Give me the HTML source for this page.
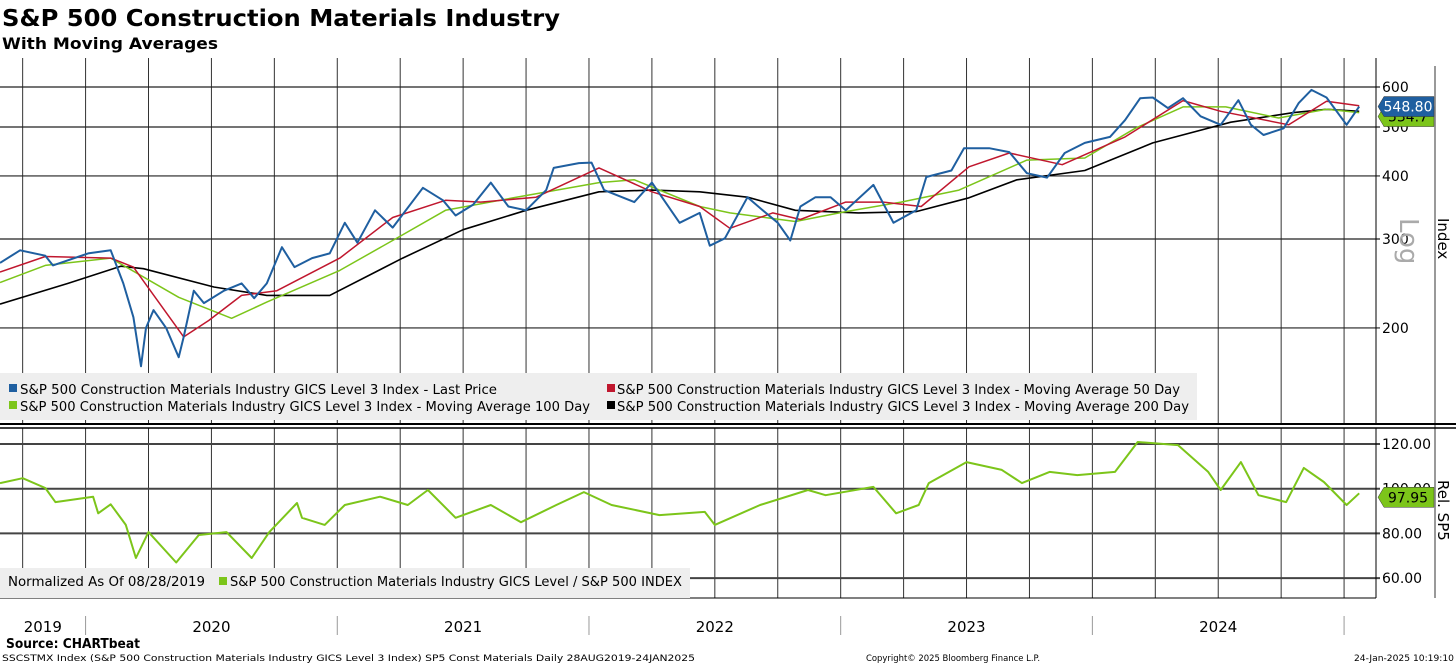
<!DOCTYPE html>
<html><head><meta charset="utf-8"><style>
html,body{margin:0;padding:0;background:#fff;}
svg{display:block;font-family:"DejaVu Sans","Liberation Sans",sans-serif;}
</style></head><body>
<svg id="chart" width="1456" height="665" viewBox="0 0 1456 665" xmlns="http://www.w3.org/2000/svg">
<text x="2" y="26" font-size="23" font-weight="bold" textLength="558" lengthAdjust="spacingAndGlyphs">S&amp;P 500 Construction Materials Industry</text>
<text x="2" y="49" font-size="16" font-weight="bold" textLength="216" lengthAdjust="spacingAndGlyphs">With Moving Averages</text>
<g id="grid"></g>
<g id="series"></g>
<g id="axes"></g>
<rect x="0" y="373" width="1197" height="47" fill="#eeeeee"/>
<rect x="9" y="384" width="8" height="8" fill="#1f5fa0"/>
<text x="20" y="394" font-size="13.5" textLength="477" lengthAdjust="spacingAndGlyphs">S&amp;P 500 Construction Materials Industry GICS Level 3 Index - Last Price</text>
<rect x="9" y="401" width="8" height="8" fill="#7cc51a"/>
<text x="20" y="411" font-size="13.5" textLength="570" lengthAdjust="spacingAndGlyphs">S&amp;P 500 Construction Materials Industry GICS Level 3 Index - Moving Average 100 Day</text>
<rect x="607" y="384" width="8" height="8" fill="#c0172e"/>
<text x="617" y="394" font-size="13.5" textLength="563" lengthAdjust="spacingAndGlyphs">S&amp;P 500 Construction Materials Industry GICS Level 3 Index - Moving Average 50 Day</text>
<rect x="607" y="401" width="8" height="8" fill="#000"/>
<text x="617" y="411" font-size="13.5" textLength="572" lengthAdjust="spacingAndGlyphs">S&amp;P 500 Construction Materials Industry GICS Level 3 Index - Moving Average 200 Day</text>
<rect x="0" y="568" width="690" height="30" fill="#eeeeee"/>
<text x="8" y="586" font-size="13.5" textLength="197" lengthAdjust="spacingAndGlyphs">Normalized As Of 08/28/2019</text>
<rect x="219" y="577" width="8" height="8" fill="#7cc51a"/>
<text x="230" y="586" font-size="13.5" textLength="452" lengthAdjust="spacingAndGlyphs">S&amp;P 500 Construction Materials Industry GICS Level / S&amp;P 500 INDEX</text>
<line x1="0" y1="424" x2="1456" y2="424" stroke="#000" stroke-width="2"/>
<line x1="0" y1="428" x2="1456" y2="428" stroke="#000" stroke-width="1.5"/>
<text x="6" y="648" font-size="13" font-weight="bold" textLength="134" lengthAdjust="spacingAndGlyphs">Source: CHARTbeat</text>
<text x="2" y="661" font-size="8.5" textLength="693" lengthAdjust="spacingAndGlyphs">SSCSTMX Index (S&amp;P 500 Construction Materials Industry GICS Level 3 Index) SP5 Const Materials  Daily 28AUG2019-24JAN2025</text>
<text x="866" y="661" font-size="8.5" textLength="174" lengthAdjust="spacingAndGlyphs">Copyright© 2025 Bloomberg Finance L.P.</text>
<text x="1354" y="661" font-size="8.5" textLength="100" lengthAdjust="spacingAndGlyphs">24-Jan-2025 10:19:10</text>
</svg>
<script>
const priceT=[2019.66,2019.74,2019.84,2019.87,2020.01,2020.10,2020.15,2020.19,2020.22,2020.24,2020.27,2020.32,2020.37,2020.39,2020.43,2020.47,2020.55,2020.62,2020.67,2020.72,2020.78,2020.83,2020.90,2020.97,2021.03,2021.08,2021.15,2021.22,2021.34,2021.42,2021.47,2021.54,2021.61,2021.68,2021.75,2021.83,2021.86,2021.96,2022.01,2022.06,2022.18,2022.25,2022.36,2022.44,2022.48,2022.54,2022.63,2022.69,2022.75,2022.80,2022.84,2022.90,2022.96,2023.02,2023.13,2023.21,2023.30,2023.34,2023.44,2023.49,2023.59,2023.67,2023.74,2023.82,2023.89,2023.97,2024.07,2024.13,2024.19,2024.24,2024.30,2024.36,2024.43,2024.51,2024.58,2024.63,2024.68,2024.76,2024.82,2024.87,2024.93,2025.01,2025.06];
const priceV=[269,285,278,266,281,285,245,210,168,200,217,200,175,192,237,224,237,245,229,245,289,264,275,281,323,295,342,316,379,358,334,351,388,348,342,375,415,424,425,375,355,388,323,338,291,301,363,342,323,298,348,363,363,342,384,323,342,398,410,454,454,446,405,397,444,465,478,516,570,572,545,570,525,505,565,505,482,497,558,592,572,505,548.8];
const ma50T=[2019.66,2019.84,2020.10,2020.19,2020.39,2020.49,2020.62,2020.76,2021.01,2021.22,2021.43,2021.57,2021.79,2022.04,2022.25,2022.44,2022.56,2022.73,2022.84,2023.02,2023.17,2023.32,2023.51,2023.67,2023.88,2024.13,2024.36,2024.51,2024.78,2024.93,2025.06];
const ma50V=[258,277,275,264,192,207,232,237,275,331,358,355,363,415,372,348,315,338,328,355,355,348,417,444,421,478,564,537,505,562,551];
const ma100T=[2019.66,2019.84,2020.10,2020.37,2020.58,2020.72,2021.01,2021.24,2021.43,2021.70,2022.04,2022.18,2022.44,2022.56,2022.82,2023.02,2023.24,2023.47,2023.74,2023.97,2024.17,2024.36,2024.53,2024.74,2024.93,2025.06];
const ma100V=[246,266,275,230,209,225,260,302,342,362,388,393,348,338,325,340,355,375,430,434,497,548,548,521,542,534];
const ma200T=[2019.66,2019.93,2020.14,2020.23,2020.51,2020.72,2020.97,2021.26,2021.50,2021.75,2022.04,2022.25,2022.44,2022.63,2022.82,2023.07,2023.30,2023.51,2023.70,2023.97,2024.24,2024.55,2024.80,2024.93,2025.06];
const ma200V=[223,245,265,262,241,232,232,275,313,342,372,375,372,363,342,338,340,362,393,410,465,511,534,542,537];
const relT=[2019.66,2019.75,2019.84,2019.88,2020.03,2020.05,2020.10,2020.16,2020.20,2020.25,2020.36,2020.45,2020.56,2020.66,2020.73,2020.84,2020.86,2020.95,2021.03,2021.17,2021.28,2021.36,2021.47,2021.61,2021.73,2021.87,2021.98,2022.09,2022.28,2022.46,2022.50,2022.68,2022.87,2022.94,2023.13,2023.22,2023.31,2023.35,2023.50,2023.64,2023.72,2023.83,2023.94,2024.09,2024.18,2024.34,2024.46,2024.51,2024.59,2024.66,2024.77,2024.84,2024.92,2025.01,2025.06];
const relV=[102.5,104.7,100.3,94,96.4,89,93,83.8,69,80.6,67,79.3,80.6,69,80.6,93.6,87,83.8,92.7,96.4,92.7,99.4,87,92.7,85,92.7,98.5,92.7,88.2,89.6,83.8,92.7,99.4,97.1,100.8,89,92.7,102.5,111.9,108.4,102.5,107.5,106.1,107.5,120.9,119.5,107.5,99.4,111.9,97.1,94,109.3,103,92.7,97.95];
const mainTicks=[600,500,400,300,200];
const relTicks=[120,100,80,60];
const years=[2019,2020,2021,2022,2023,2024];

const NS="http://www.w3.org/2000/svg";
const X0=2019.66,PXY=251.7,PR=1376;
const xS=t=>(t-X0)*PXY;
const yMain=v=>87+(Math.log10(600)-Math.log10(v))*505;
const yRel=v=>444+(120-v)*2.235;
function mk(tag,attrs,parent){const e=document.createElementNS(NS,tag);for(const k in attrs)e.setAttribute(k,attrs[k]);parent.appendChild(e);return e;}
const grid=document.getElementById('grid'),ser=document.getElementById('series'),ax=document.getElementById('axes');

// vertical quarter grid lines
for(let q=2019.75;q<=2025.0;q+=0.25){
  const x=xS(q);
  let l=mk('line',{x1:x,y1:58,x2:x,y2:424,stroke:'#333','stroke-width':1},grid);
  
  
  let l2=mk('line',{x1:x,y1:428,x2:x,y2:598,stroke:'#333','stroke-width':1},grid);
  
  
}
mainTicks.forEach(v=>{
  const y=yMain(v);
  let l=mk('line',{x1:0,y1:y,x2:PR+4,y2:y,stroke:'#222','stroke-width':1.2},grid);
  
  
  let t=mk('text',{x:PR+6,y:y+5,'font-size':14},ax);t.textContent=v;
  
  
});
relTicks.forEach(v=>{
  const y=yRel(v);
  let l=mk('line',{x1:0,y1:y,x2:PR+4,y2:y,stroke:'#444','stroke-width':2},grid);
  
  
  let t=mk('text',{x:PR+6,y:y+5,'font-size':14},ax);t.textContent=v.toFixed(2);
  
  
});
// axis lines
[[PR,58,PR,424],[PR,428,PR,598],[0,598,PR,598]].forEach(c=>{
  let l=mk('line',{x1:c[0],y1:c[1],x2:c[2],y2:c[3],stroke:'#000','stroke-width':1},ax);
  
  
});
let br=mk('line',{x1:1435,y1:66,x2:1435,y2:598,stroke:'#999','stroke-width':2},ax);


// years
years.forEach(yr=>{
  const a=Math.max(0,xS(yr)),b=Math.min(xS(yr+1),PR);
  let t=mk('text',{x:(a+b)/2,y:632,'font-size':15,'text-anchor':'middle'},ax);t.textContent=yr;
  
  
  if(yr>2019){let l=mk('line',{x1:xS(yr),y1:616,x2:xS(yr),y2:635,stroke:'#999','stroke-width':1},ax);
  
  }
});
let l3=mk('line',{x1:xS(2025),y1:616,x2:xS(2025),y2:635,stroke:'#999'},ax);



function line(T,V,ys,color,w,name){
  const d=T.map((t,i)=>(i?'L':'M')+xS(t).toFixed(1)+' '+ys(V[i]).toFixed(1)).join(' ');
  const p=mk('path',{d:d,fill:'none',stroke:color,'stroke-width':w,'stroke-linejoin':'round'},ser);
  
  
}
line(ma200T,ma200V,yMain,'#000',1.6,'ma200-line');
line(ma100T,ma100V,yMain,'#7cc51a',1.5,'ma100-line');
line(ma50T,ma50V,yMain,'#c0172e',1.5,'ma50-line');
line(priceT,priceV,yMain,'#1f5fa0',2,'price-line');
line(relT,relV,yRel,'#7cc51a',2,'rel-line');

// value tags
function tag(y,fill,txt,name,tc){
  const g=mk('g',{},ax);
  
  
  mk('path',{d:`M1378 ${y} L1384 ${y-10} L1434 ${y-10} L1434 ${y+10} L1384 ${y+10} Z`,fill:fill,stroke:'#333','stroke-width':0.5},g);
  const t=mk('text',{x:1408,y:y+5,'font-size':14,'text-anchor':'middle',fill:tc},g);t.textContent=txt;
}
tag(yMain(ma100V[ma100V.length-1])+4,'#7cc51a','534.7','ma100-tag','#000');
tag(yMain(priceV[priceV.length-1]),'#1f5fa0',priceV[priceV.length-1].toFixed(2),'price-tag','#fff');
tag(yRel(relV[relV.length-1])+4,'#7cc51a',relV[relV.length-1].toFixed(2),'rel-tag','#000');

let it=mk('text',{x:0,y:0,'font-size':15,transform:'translate(1438,218) rotate(90)'},ax);it.textContent='Index';


let lg=mk('text',{x:0,y:0,'font-size':26,fill:'#aaa',transform:'translate(1400,218) rotate(90)'},ax);lg.textContent='Log';


let rt=mk('text',{x:0,y:0,'font-size':15,transform:'translate(1438,480) rotate(90)'},ax);rt.textContent='Rel. SP5';


</script>
</body></html>
